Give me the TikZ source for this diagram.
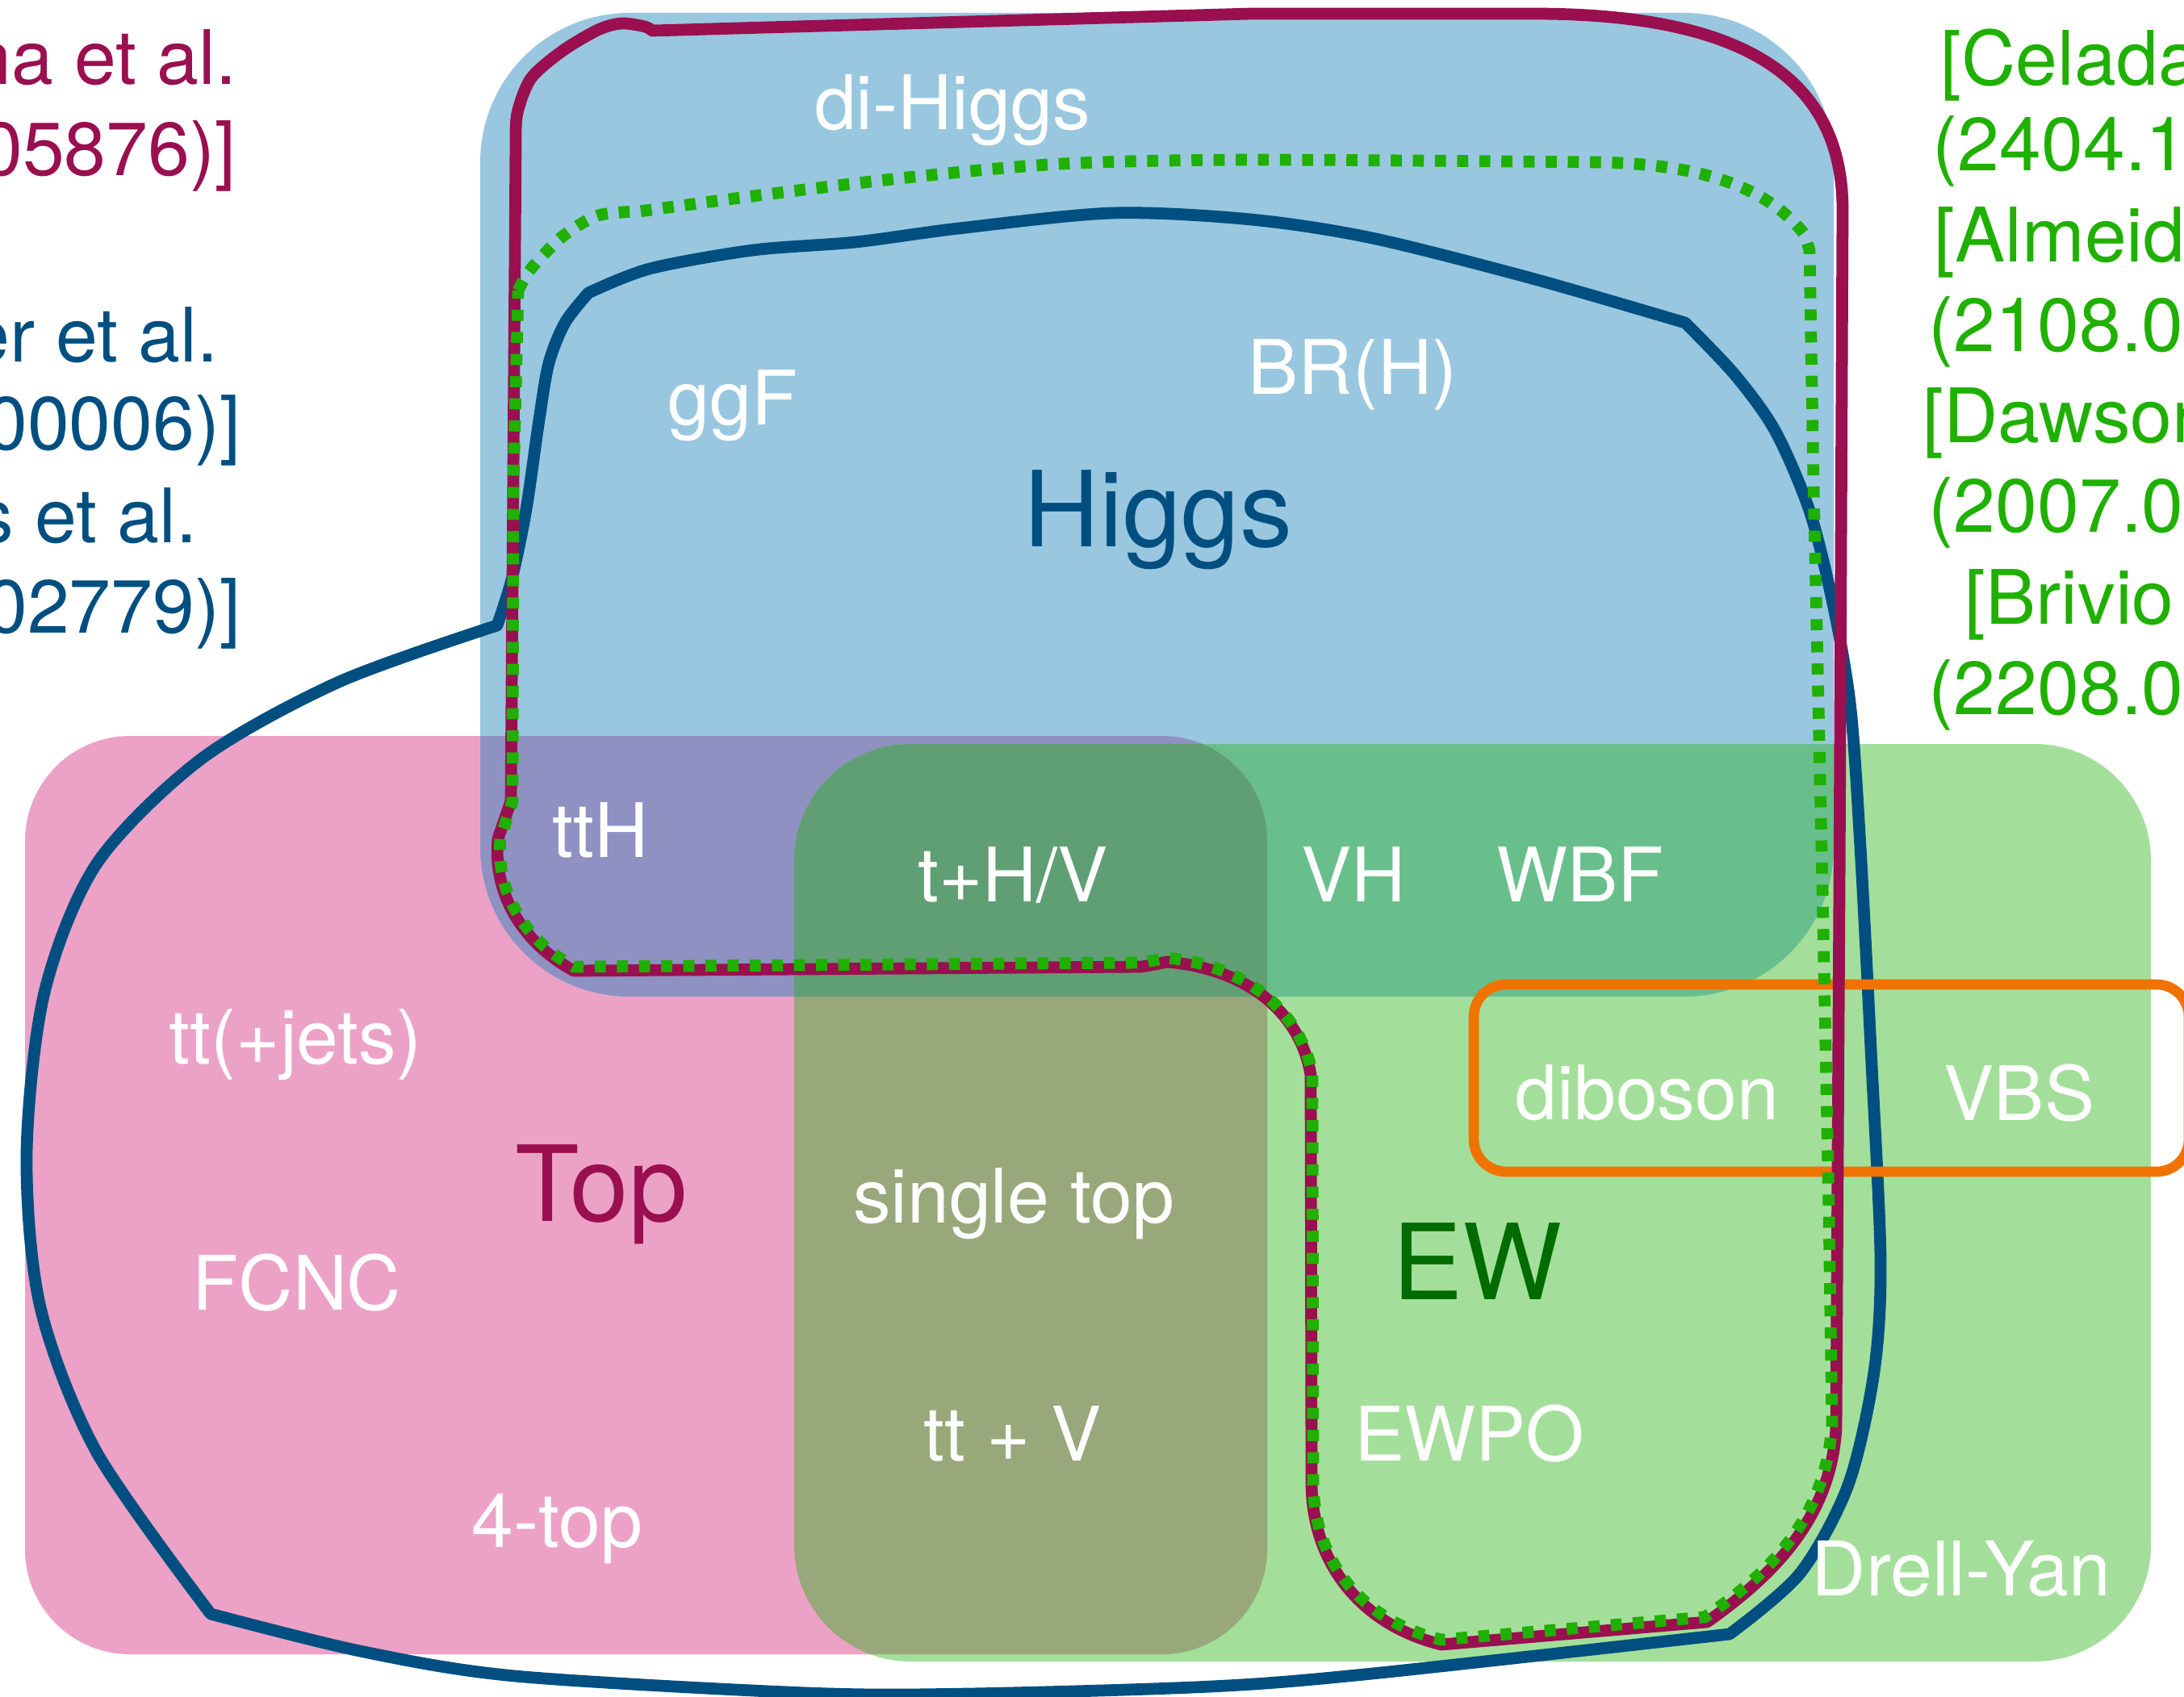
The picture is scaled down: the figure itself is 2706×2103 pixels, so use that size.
\documentclass[tikz,border=0pt]{standalone}
\usepackage{fontspec}
\setmainfont{TeX Gyre Heros}
\definecolor{hblue}{RGB}{153,199,224}
\definecolor{tpink}{RGB}{236,162,198}
\definecolor{ewgreen}{RGB}{163,223,154}
\definecolor{hpcol}{RGB}{143,145,194}
\definecolor{hgcol}{RGB}{104,191,139}
\definecolor{pgcol}{RGB}{152,168,122}
\definecolor{hpgcol}{RGB}{96,158,116}
\definecolor{maroonc}{RGB}{153,15,80}
\definecolor{dbluec}{RGB}{0,79,128}
\definecolor{dotgreen}{RGB}{31,176,0}
\definecolor{orangec}{RGB}{240,115,0}
\definecolor{dgreenc}{RGB}{0,107,0}
\begin{document}
\begin{tikzpicture}[x=0.01cm,y=-0.01cm,
  lbl/.style={text=white,font=\fontsize{26.5}{31.8}\selectfont,inner sep=0pt,anchor=base},
  biglbl/.style={font=\fontsize{37}{44}\selectfont,inner sep=0pt,anchor=base},
  refl/.style={font=\fontsize{26.5}{31.8}\selectfont,inner sep=0pt,anchor=base east},
  refr/.style={font=\fontsize{26.5}{31.8}\selectfont,inner sep=0pt,anchor=base west,text=dotgreen},
  bline/.style={draw=dbluec,line width=4.2pt,line join=round},
  mline/.style={draw=maroonc,line width=4.2pt,line join=round},
  gline/.style={draw=dotgreen,line width=4.2pt,dash pattern=on 3.9pt off 3.9pt},
  oline/.style={draw=orangec,line width=3.6pt,rounded corners=11.4pt},
  bluebox/.style={rounded corners=52.6pt},
  pinkbox/.style={rounded corners=37pt},
  greenbox/.style={rounded corners=41pt}]
\useasboundingbox (0,0) rectangle (2706,2103);
\clip (0,0) rectangle (2706,2103);
\def\Bbox{(595,16) rectangle (2272,1235)}
\def\Pbox{(31,912) rectangle (1570,2050)}
\def\Gbox{(984,922) rectangle (2665,2059)}
% base fills
\fill[tpink,pinkbox] \Pbox;
\fill[ewgreen,greenbox] \Gbox;
\fill[hblue,bluebox] \Bbox;
% overlaps
\begin{scope}\clip[bluebox] \Bbox; \fill[hpcol,pinkbox] \Pbox; \fill[hgcol,greenbox] \Gbox;\end{scope}
\begin{scope}\clip[pinkbox] \Pbox; \fill[pgcol,greenbox] \Gbox;\end{scope}
\begin{scope}\clip[bluebox] \Bbox; \clip[pinkbox] \Pbox; \fill[hpgcol,greenbox] \Gbox;\end{scope}
% Higgs (blue) contour
\draw[bline] plot[smooth] coordinates {(729,363)(805,333)(933,310)(1060,300)(1188,283)(1379,264)(1550,272)(1700,295)(1898,345)(2088,400)}
 -- plot[smooth] coordinates {(2088,400)(2150,465)(2200,535)(2243,636)(2273,758)(2293,879)(2305,1050)(2318,1300)(2330,1560)(2322,1700)(2290,1840)(2230,1950)(2143,2025)}
 -- plot[smooth] coordinates {(2143,2025)(1700,2074)(1500,2090)(1200,2099)(1000,2098)(638,2077)(446,2046)(261,2000)}
 -- plot[smooth] coordinates {(261,2000)(120,1800)(50,1620)(33,1430)(55,1230)(120,1070)(250,940)(420,845)(616,775)}
 -- plot[smooth] coordinates {(616,775)(634,718)(652,631)(668,520)(680,450)(700,400)(729,363)} -- cycle;
% orange box
\draw[oline] (1826,1220) rectangle (2712,1452);
% Top (maroon) contour
\draw[mline] plot[smooth] coordinates {(639,177)(641,140)(658,97)(697,63)(741,37)(770,29)(799,33)(808,38)}
 -- (1550,17) -- (1900,17) .. controls (2150,17) and (2283,90) .. (2283,260)
 -- (2279,1100) -- (2275,1770)
 .. controls (2268,1880) and (2200,1950) .. (2115,2010)
 -- (1786,2038)
 .. controls (1690,2015) and (1625,1940) .. (1625,1837)
 -- (1624,1332)
 .. controls (1610,1250) and (1540,1200) .. (1446,1192)
 -- (1415,1198) -- (711,1203)
 .. controls (650,1170) and (610,1110) .. (617,1039)
 -- (633,993) -- cycle;
% EW (green dotted) contour
\draw[gline] plot[smooth] coordinates {(642,360)(658,333)(697,293)(741,267)(792,262)}
 -- plot[smooth] coordinates {(792,262)(933,243)(1124,220)(1315,203)(1550,198)(1968,201)}
 .. controls (2100,201) and (2190,230) .. (2236,291)
 -- (2242,310) -- (2247,600) -- (2258,1100) -- (2266,1500) -- (2270,1765)
 .. controls (2262,1880) and (2195,1948) .. (2112,2004)
 -- (1786,2032)
 .. controls (1692,2010) and (1628,1940) .. (1627,1837)
 -- (1626,1332)
 .. controls (1612,1252) and (1542,1196) .. (1446,1187)
 -- (1415,1193) -- (711,1198)
 .. controls (652,1166) and (614,1108) .. (620,1039)
 -- (635,993) -- (636,600) -- cycle;
% labels
\node[lbl] (dihiggs) at (1180,161) {di-Higgs};
\node[lbl] (ggf) at (908,526) {ggF};
\node[lbl] (brh) at (1676,488) {BR(H)};
\node[biglbl,text=dbluec] (higgs) at (1435,677) {Higgs};
\node[lbl] (tth) at (744,1062) {ttH};
\node[lbl] (thv) at (1255,1117) {t+H/V};
\node[lbl] (vh) at (1677,1117) {VH};
\node[lbl] (wbf) at (1958,1117) {WBF};
\node[lbl] (ttjets) at (366,1318) {tt(+jets)};
\node[biglbl,text=maroonc] (top) at (745,1513) {Top};
\node[lbl] (diboson) at (2041,1387) {diboson};
\node[lbl] (vbs) at (2502,1388) {VBS};
\node[lbl] (single) at (1256,1515) {single top};
\node[lbl] (fcnc) at (368,1623) {FCNC};
\node[biglbl,text=dgreenc] (ew) at (1830,1610) {EW};
\node[lbl] (ttv) at (1255,1810) {tt + V};
\node[lbl] (ewpo) at (1821,1810) {EWPO};
\node[lbl] (fourtop) at (690,1917) {4-top};
\node[lbl] (dy) at (2430,1977) {Drell-Yan};
% left references (cut off)
\node[refl,text=maroonc] (l1) at (294,105) {na et al.};
\node[refl,text=maroonc] (l2) at (293,218) {05876)]};
\node[refl,text=dbluec] (l3) at (271,448) {er et al.};
\node[refl,text=dbluec] (l4) at (299,557) {00006)]};
\node[refl,text=dbluec] (l5) at (245,672) {s et al.};
\node[refl,text=dbluec] (l6) at (299,784) {02779)]};
% right references (cut off)
\node[refr] (r1) at (2404,106) {[Celada};
\node[refr] (r2) at (2394,212) {(2404.1};
\node[refr] (r3) at (2396,324) {[Almeid};
\node[refr] (r4) at (2389,435) {(2108.0};
\node[refr] (r5) at (2382,548) {[Dawson};
\node[refr] (r6) at (2389,659) {(2007.0};
\node[refr] (r7) at (2434,773) {[Brivio};
\node[refr] (r8) at (2389,885) {(2208.0};
\end{tikzpicture}
\end{document}
